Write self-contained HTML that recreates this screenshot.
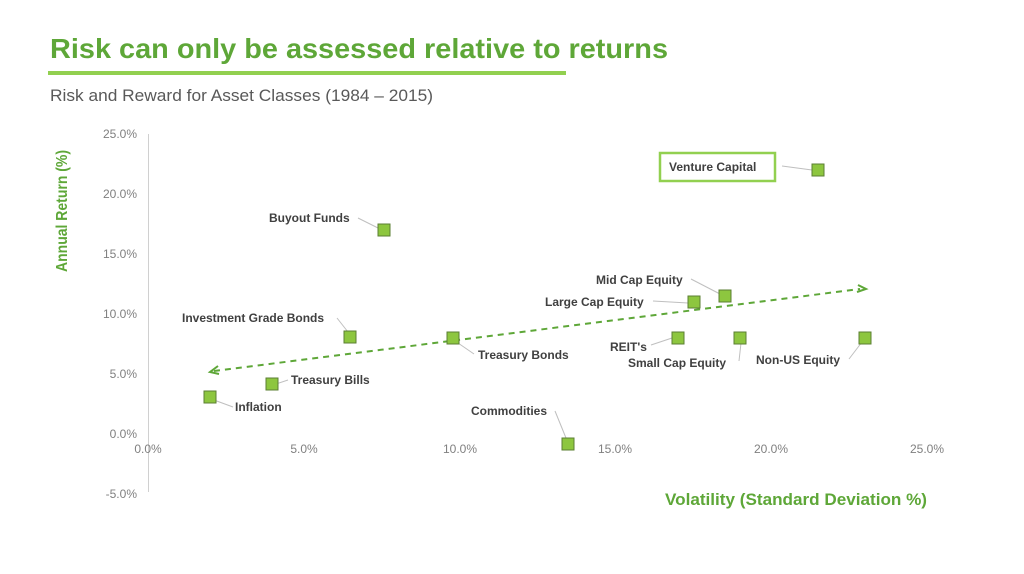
<!DOCTYPE html>
<html><head><meta charset="utf-8"><style>
html,body{margin:0;padding:0;background:#fff;}
svg{display:block;font-family:"Liberation Sans",Arial,sans-serif;}
</style></head><body>
<svg width="1024" height="574" viewBox="0 0 1024 574">
<text x="50" y="58" font-size="28" font-weight="bold" fill="#5EA738" textLength="618" lengthAdjust="spacingAndGlyphs">Risk can only be assessed relative to returns</text>
<rect x="48" y="71" width="518" height="4" fill="#92D050"/>
<text x="50" y="101" font-size="17" fill="#595959" textLength="383" lengthAdjust="spacingAndGlyphs">Risk and Reward for Asset Classes (1984 – 2015)</text>
<line x1="148.5" y1="134" x2="148.5" y2="492" stroke="#d0d0d0" stroke-width="1"/>
<g font-size="12" fill="#808080" text-anchor="end">
<text x="137" y="138">25.0%</text><text x="137" y="198">20.0%</text><text x="137" y="258">15.0%</text>
<text x="137" y="318">10.0%</text><text x="137" y="378">5.0%</text><text x="137" y="438">0.0%</text><text x="137" y="498">-5.0%</text>
</g>
<g font-size="12" fill="#808080" text-anchor="middle">
<text x="148" y="453">0.0%</text><text x="304" y="453">5.0%</text><text x="460" y="453">10.0%</text>
<text x="615" y="453">15.0%</text><text x="771" y="453">20.0%</text><text x="927" y="453">25.0%</text>
</g>
<text transform="translate(67,211) rotate(-90)" font-size="16" font-weight="bold" fill="#5EA738" text-anchor="middle" textLength="122" lengthAdjust="spacingAndGlyphs">Annual Return (%)</text>
<text x="665" y="505" font-size="17" font-weight="bold" fill="#5EA738" textLength="262" lengthAdjust="spacingAndGlyphs">Volatility (Standard Deviation %)</text>
<line x1="214" y1="371" x2="860" y2="289" stroke="#5EA738" stroke-width="2" stroke-dasharray="6,5"/>
<polyline points="218,366 210,372 219,374" fill="none" stroke="#5EA738" stroke-width="2"/>
<polyline points="858,285 866,289 857,292" fill="none" stroke="#5EA738" stroke-width="2"/>
<g stroke="#bfbfbf" stroke-width="1" fill="none">
<line x1="782" y1="166" x2="812" y2="170"/>
<line x1="358" y1="218" x2="378" y2="228"/>
<line x1="691" y1="279" x2="720" y2="294"/>
<line x1="653" y1="301" x2="688" y2="303"/>
<line x1="337" y1="318" x2="348" y2="332"/>
<line x1="458" y1="343" x2="474" y2="354"/>
<line x1="651" y1="345" x2="672" y2="338"/>
<line x1="739" y1="361" x2="741" y2="343"/>
<line x1="849" y1="359" x2="862" y2="342"/>
<line x1="288" y1="380" x2="276" y2="384"/>
<line x1="233" y1="407" x2="214" y2="400"/>
<line x1="555" y1="411" x2="566" y2="438"/>
</g>
<rect x="660" y="153" width="115" height="28" fill="#fff" stroke="#92D050" stroke-width="2.5"/>
<g font-size="12" font-weight="bold" fill="#404040">
<text x="669" y="171">Venture Capital</text>
<text x="269" y="222">Buyout Funds</text>
<text x="596" y="284">Mid Cap Equity</text>
<text x="545" y="306">Large Cap Equity</text>
<text x="182" y="322">Investment Grade Bonds</text>
<text x="478" y="359">Treasury Bonds</text>
<text x="610" y="351">REIT's</text>
<text x="628" y="367">Small Cap Equity</text>
<text x="756" y="364">Non-US Equity</text>
<text x="291" y="384">Treasury Bills</text>
<text x="235" y="411">Inflation</text>
<text x="471" y="415">Commodities</text>
</g>
<g fill="#8DC63F" stroke="#5B7F33" stroke-width="1">
<rect x="812" y="164" width="12" height="12"/>
<rect x="378" y="224" width="12" height="12"/>
<rect x="719" y="290" width="12" height="12"/>
<rect x="688" y="296" width="12" height="12"/>
<rect x="344" y="331" width="12" height="12"/>
<rect x="447" y="332" width="12" height="12"/>
<rect x="672" y="332" width="12" height="12"/>
<rect x="734" y="332" width="12" height="12"/>
<rect x="859" y="332" width="12" height="12"/>
<rect x="266" y="378" width="12" height="12"/>
<rect x="204" y="391" width="12" height="12"/>
<rect x="562" y="438" width="12" height="12"/>
</g>
</svg>
</body></html>
